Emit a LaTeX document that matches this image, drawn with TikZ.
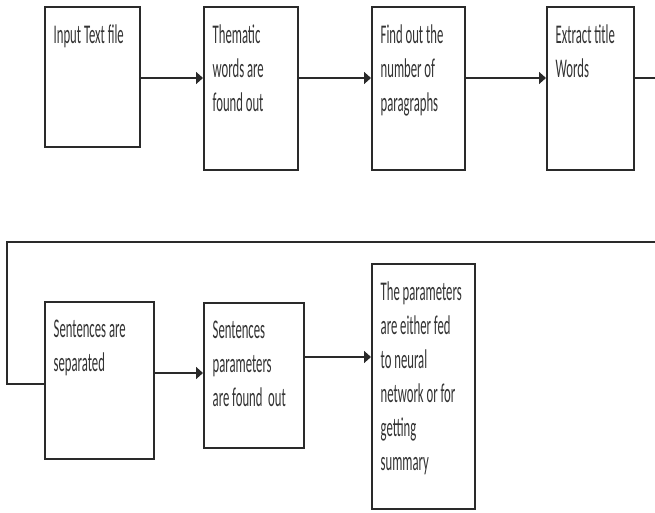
\documentclass[tikz,border=0pt]{standalone}
\usepackage{fontspec}
\setmainfont[FakeStretch=0.47]{Carlito}
\usetikzlibrary{arrows.meta}
\definecolor{Canvas}{HTML}{FFFFFF}
\definecolor{Ink}{HTML}{2A2A2A}
\definecolor{TextInk}{HTML}{333333}

\begin{document}
\begin{tikzpicture}[x=1pt,y=-1pt,
  stage/.style={draw=Ink,line width=1.6pt,anchor=north west,inner sep=0pt},
  words/.style={anchor=north west,align=left,inner xsep=9.5pt,inner ysep=0pt,yshift=-19pt,text=TextInk,font=\fontsize{27}{34}\selectfont},
  flow/.style={draw=Ink,line width=1.6pt,-{Triangle[length=7pt,width=12pt]}},
  wire/.style={draw=Ink,line width=1.6pt}]
\clip (0,0) rectangle (655,512);
\fill[Canvas] (0,0) rectangle (655,512);
% top row
\node[stage,minimum width=95pt,minimum height=140pt] (input) at (44,6) {};
\node[stage,minimum width=94pt,minimum height=163pt] (thematic) at (203,6) {};
\node[stage,minimum width=93pt,minimum height=163pt] (paragraphs) at (371,6) {};
\node[stage,minimum width=87pt,minimum height=163pt] (title) at (546,6) {};
% bottom row
\node[stage,minimum width=109pt,minimum height=157pt] (separated) at (44,301) {};
\node[stage,minimum width=100pt,minimum height=145pt] (sentparam) at (203,302) {};
\node[stage,minimum width=103pt,minimum height=245pt] (result) at (371,263) {};
% texts
\node[words] (input-t) at (input.north west) {Input Text file};
\node[words] (thematic-t) at (thematic.north west) {Thematic\\words are\\found out};
\node[words] (paragraphs-t) at (paragraphs.north west) {Find out the\\number of\\paragraphs};
\node[words] (title-t) at (title.north west) {Extract title\\Words};
\node[words] (separated-t) at (separated.north west) {Sentences are\\separated};
\node[words] (sentparam-t) at (sentparam.north west) {Sentences\\parameters\\are found\ \ out};
\node[words] (result-t) at (result.north west) {The parameters\\are either fed\\to neural\\network or for\\getting\\summary};
% connectors
\coordinate (row1) at (0,78);
\coordinate (loop) at (7,242);
\coordinate (row3) at (0,384);
\coordinate (row4) at (0,373);
\coordinate (row5) at (0,357);
\draw[flow] (input.east |- row1) -- (thematic.west |- row1);
\draw[flow] (thematic.east |- row1) -- (paragraphs.west |- row1);
\draw[flow] (paragraphs.east |- row1) -- (title.west |- row1);
\draw[wire] (title.east |- row1) -- ++(40,0) |- (loop) |- (separated.west |- row3);
\draw[flow] (separated.east |- row4) -- (sentparam.west |- row4);
\draw[flow] (sentparam.east |- row5) -- (result.west |- row5);
\end{tikzpicture}
\end{document}
